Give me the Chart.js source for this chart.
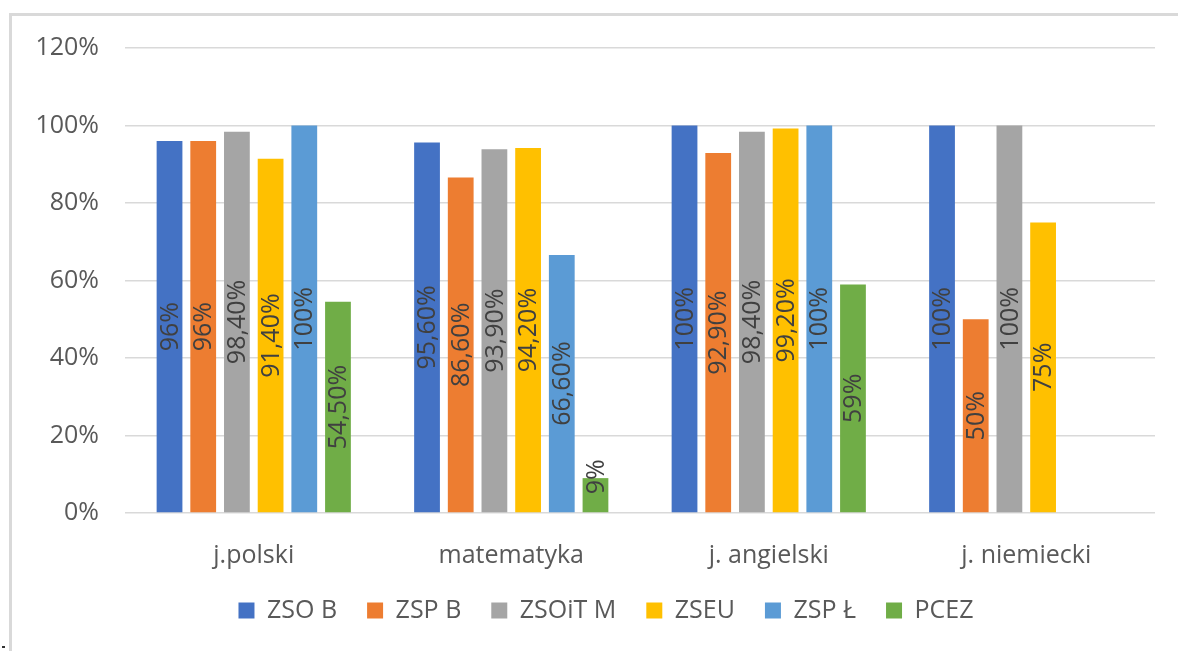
<!DOCTYPE html>
<html>
<head>
<meta charset="utf-8">
<script src="https://cdn.jsdelivr.net/npm/chart.js@4"></script>
<style>
  html, body { margin: 0; padding: 0; background: #fff; }
  #wrap { position: relative; width: 1178px; height: 651px; overflow: hidden; }
  #frame { position: absolute; left: 9px; top: 13px; right: -10px; bottom: -10px;
           border-top: 3px solid #d9d9d9; border-left: 3px solid #d9d9d9; }
  #dot { position: absolute; left: 2px; top: 646px; width: 3px; height: 2px; background: #333; }
  canvas { position: absolute; left: 0; top: 0; }
</style>
</head>
<body>
<div id="wrap">
  <div id="frame"></div>
  <div id="dot"></div>
  <canvas id="chart" width="1178" height="651"></canvas>
</div>
<script>
  // Categories and series (percent values)
  const categories = ["j.polski", "matematyka", "j. angielski", "j. niemiecki"];
  const seriesNames = ["ZSO B", "ZSP B", "ZSOiT M", "ZSEU", "ZSP Ł", "PCEZ"];
  const zsoB   = [96, 95.6, 100, 100];
  const zspB   = [96, 86.6, 92.9, 50];
  const zsoitM = [98.4, 93.9, 98.4, 100];
  const zseu   = [91.4, 94.2, 99.2, 75];
  const zspL   = [100, 66.6, 100, null];
  const pcez   = [54.5, 9, 59, null];
  const yTicks = [0, 20, 40, 60, 80, 100, 120];

  const colors = ['#4472C4', '#ED7D31', '#A5A5A5', '#FFC000', '#5B9BD5', '#70AD47'];
  const fontFamily = '"Open Sans", "Noto Sans", sans-serif';

  // 96 -> "96%", 98.4 -> "98,40%"
  function fmtPct(v) {
    if (Number.isInteger(v)) return v + '%';
    return v.toFixed(2).replace('.', ',') + '%';
  }

  // Rotated value labels inside each bar
  const barLabels = {
    id: 'barLabels',
    afterDatasetsDraw(chart) {
      const ctx = chart.ctx;
      ctx.save();
      ctx.font = '25px ' + fontFamily;
      ctx.fillStyle = '#404040';
      ctx.textAlign = 'center';
      ctx.textBaseline = 'middle';
      chart.data.datasets.forEach((ds, i) => {
        const meta = chart.getDatasetMeta(i);
        meta.data.forEach((el, j) => {
          const v = ds.data[j];
          if (v == null) return;
          const text = fmtPct(v);
          const w = ctx.measureText(text).width;
          let cy = (el.y + el.base) / 2;
          cy = Math.min(cy, el.base - w / 2 - 18);
          ctx.save();
          ctx.translate(el.x, cy);
          ctx.rotate(-Math.PI / 2);
          ctx.fillText(text, 0, 1);
          ctx.restore();
        });
      });
      ctx.restore();
    }
  };

  // legend sits a bit right of the canvas centre and closer to the axis labels
  const legendPlace = {
    id: 'legendPlace',
    afterLayout(chart) {
      const lg = chart.legend;
      lg.left = 57;
      lg.width = lg.right - lg.left;
      lg.top -= 18;
      lg.bottom -= 18;
    }
  };

  const allSeries = [zsoB, zspB, zsoitM, zseu, zspL, pcez];

  new Chart(document.getElementById('chart').getContext('2d'), {
    type: 'bar',
    data: {
      labels: categories,
      datasets: seriesNames.map((name, i) => ({
        label: name,
        data: allSeries[i],
        backgroundColor: colors[i],
        borderWidth: 0,
        categoryPercentage: 0.785,
        barPercentage: 0.765
      }))
    },
    options: {
      responsive: false,
      animation: false,
      layout: { padding: { left: 0, right: 23, top: 48, bottom: 0 } },
      plugins: {
        legend: {
          position: 'bottom',
          labels: {
            boxWidth: 16,
            boxHeight: 16,
            padding: 30,
            color: '#595959',
            font: { family: fontFamily, size: 25 }
          }
        },
        tooltip: { enabled: false }
      },
      scales: {
        x: {
          grid: { display: false },
          border: { display: false },
          ticks: { color: '#595959', padding: 20, font: { family: fontFamily, size: 25 } },
          afterFit: s => { s.height = 73; }
        },
        y: {
          min: 0,
          max: 120,
          afterBuildTicks: s => { s.ticks = yTicks.map(v => ({ value: v })); },
          grid: { color: '#d9d9d9', lineWidth: 1.5, drawTicks: false },
          border: { display: false },
          ticks: {
            color: '#595959',
            padding: 26,
            font: { family: fontFamily, size: 25 },
            callback: v => v + '%'
          },
          afterFit: s => { s.width = 125; }
        }
      }
    },
    plugins: [barLabels, legendPlace]
  });
</script>
</body>
</html>
